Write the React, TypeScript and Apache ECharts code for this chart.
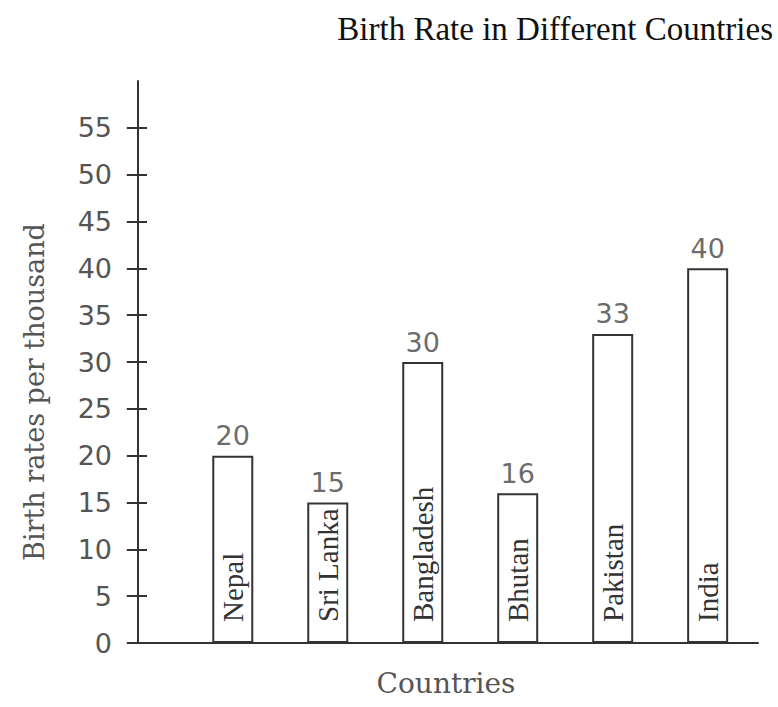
import React, { useEffect, useRef } from "react";
import * as echarts from "echarts";

const categories = ["Nepal", "Sri Lanka", "Bangladesh", "Bhutan", "Pakistan", "India"];
const birthRates = [20, 15, 30, 16, 33, 40];
const positions = [1, 2, 3, 4, 5, 6];
const yTickValues = [0, 5, 10, 15, 20, 25, 30, 35, 40, 45, 50, 55];

export default function App() {
  const ref = useRef<HTMLDivElement>(null);
  useEffect(() => {
    document.body.style.margin = "0";
    const chart = echarts.init(ref.current!, null, { renderer: "svg" });
    const barData = positions.map((p, i) => [p, birthRates[i]]);
    chart.setOption({
      animation: false,
      backgroundColor: "#ffffff",
      title: {
        text: "Birth Rate in Different Countries",
        right: 0,
        top: 7,
        textStyle: { fontFamily: "Liberation Serif", fontSize: 33, fontWeight: "normal", color: "#111" },
      },
      grid: { left: 134, right: 20, top: 81, bottom: 64 },
      xAxis: {
        type: "value",
        min: -0.04,
        max: 6.53,
        name: "Countries",
        nameLocation: "middle",
        nameGap: 26,
        nameTextStyle: { fontFamily: "DejaVu Serif", fontSize: 28, color: "#555", verticalAlign: "top" },
        axisLine: { show: true, lineStyle: { color: "#333", width: 2 } },
        axisTick: { show: false },
        axisLabel: { show: false },
        splitLine: { show: false },
      },
      yAxis: [
        {
          type: "value",
          min: 0,
          max: 60,
          interval: 5,
          position: "left",
          name: "Birth rates per thousand",
          nameLocation: "middle",
          nameRotate: 90,
          nameGap: 86,
          nameTextStyle: {
            fontFamily: "DejaVu Serif",
            fontSize: 27,
            color: "#555",
            padding: [0, 60, 0, 0],
          },
          axisLine: { show: true, lineStyle: { color: "#333", width: 2 } },
          axisTick: { show: true, length: 11, lineStyle: { color: "#333", width: 2 }, customValues: yTickValues },
          axisLabel: {
            margin: 22,
            fontFamily: "DejaVu Sans",
            fontSize: 27,
            color: "#555",
            customValues: yTickValues,
          },
          splitLine: { show: false },
        },
        {
          type: "value",
          min: 0,
          max: 60,
          interval: 5,
          position: "left",
          offset: 0,
          axisLine: { show: false },
          axisTick: { show: true, inside: true, length: 13, lineStyle: { color: "#333", width: 2 }, customValues: yTickValues },
          axisLabel: { show: false },
          splitLine: { show: false },
        },
      ],
      series: [
        {
          type: "bar",
          data: barData,
          barWidth: 41,
          itemStyle: { color: "#ffffff", borderColor: "#333", borderWidth: 2 },
          label: {
            show: true,
            position: "insideBottom",
            distance: 21,
            rotate: 90,
            align: "left",
            verticalAlign: "middle",
            fontFamily: "Liberation Serif",
            fontSize: 29,
            color: "#333",
            formatter: (p: any) => categories[p.dataIndex],
          },
        },
        {
          type: "scatter",
          data: barData,
          symbolSize: 1,
          itemStyle: { color: "rgba(0,0,0,0)" },
          label: {
            show: true,
            position: "top",
            distance: 6,
            fontFamily: "DejaVu Sans",
            fontSize: 27,
            color: "#444",
            formatter: (p: any) => String(birthRates[p.dataIndex]),
          },
        },
      ],
    });
    return () => chart.dispose();
  }, []);
  return <div ref={ref} style={{ width: 778, height: 707 }} />;
}
